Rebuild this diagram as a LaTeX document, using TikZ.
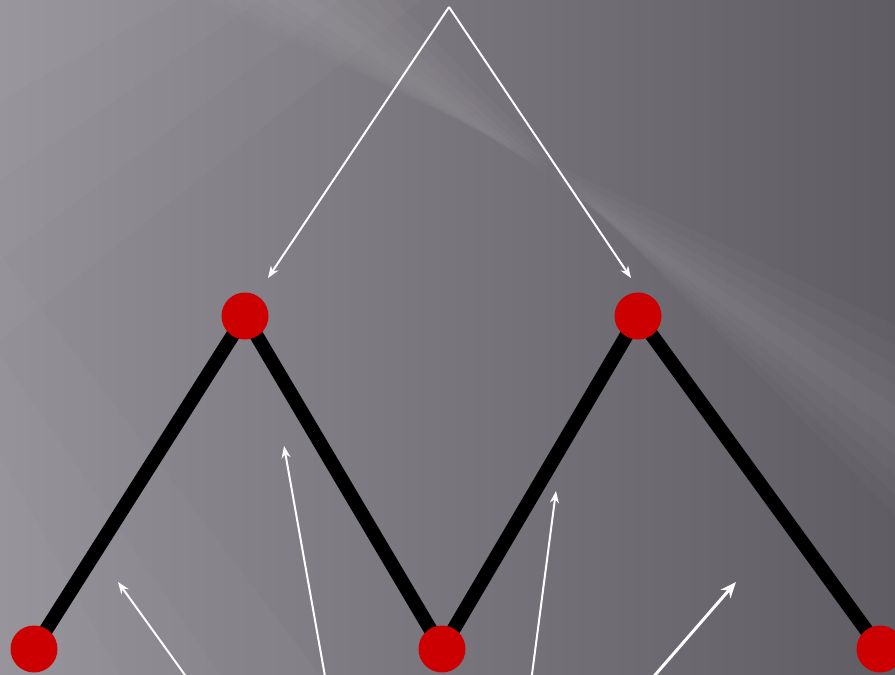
\documentclass[tikz,border=0pt]{standalone}
\usetikzlibrary{arrows.meta,backgrounds}
\definecolor{bgleft}{HTML}{928E96}
\definecolor{bgright}{HTML}{605C63}
\definecolor{dotred}{HTML}{CC0000}
\tikzset{
  dot/.style={circle,fill=dotred,minimum size=47pt,inner sep=0pt},
  zig/.style={line width=14pt,black},
  ptr/.style={white,line width=2pt,-{Stealth[length=12pt,width=9pt]}},
  bigptr/.style={white,line width=3pt,-{Stealth[length=16pt,width=13pt]}},
  glow/.style={white,opacity=0.022}
}
\begin{document}
\begin{tikzpicture}[x=1pt,y=-1pt]
\useasboundingbox (0,0) rectangle (895,675);
\node[dot] (a) at (34,649) {};
\node[dot] (b) at (245,316) {};
\node[dot] (c) at (442,649) {};
\node[dot] (d) at (638,316) {};
\node[dot] (e) at (880,649) {};
\begin{scope}[on background layer]
\shade[left color=bgleft,right color=bgright] (0,0) rectangle (895,675);
% soft top-left glow
\foreach \r in {100,180,260,340}
  \fill[glow] (0,0) -- (\r+80,0) -- (0,\r) -- cycle;
% soft diagonal band, parallel edges
\foreach \w in {15,35,55,75,95}
  \fill[glow] (300-\w,0) -- (300+\w,0) -- (895,420+\w) -- (895,420-\w) -- cycle;
% lighter lower-left
\foreach \r in {120,220,320}
  \fill[glow] (0,675) -- (0,675-\r-100) -- (\r,675) -- cycle;
\draw[zig,line join=miter] (a.center) -- (b.center) -- (c.center) -- (d.center) -- (e.center);
\end{scope}
\coordinate (top) at (449,7);
\coordinate (t1) at (268,278);
\coordinate (t2) at (631,278);
\draw[ptr] (top) -- (t1);
\draw[ptr] (top) -- (t2);
\coordinate (s3) at (190,682);
\coordinate (e3) at (118,582);
\coordinate (s4) at (326,682);
\coordinate (e4) at (284,446);
\coordinate (s5) at (531,682);
\coordinate (e5) at (556,491);
\coordinate (s6) at (649,682);
\coordinate (e6) at (736,582);
\draw[ptr] (s3) -- (e3);
\draw[ptr] (s4) -- (e4);
\draw[ptr] (s5) -- (e5);
\draw[bigptr] (s6) -- (e6);
\end{tikzpicture}
\end{document}
